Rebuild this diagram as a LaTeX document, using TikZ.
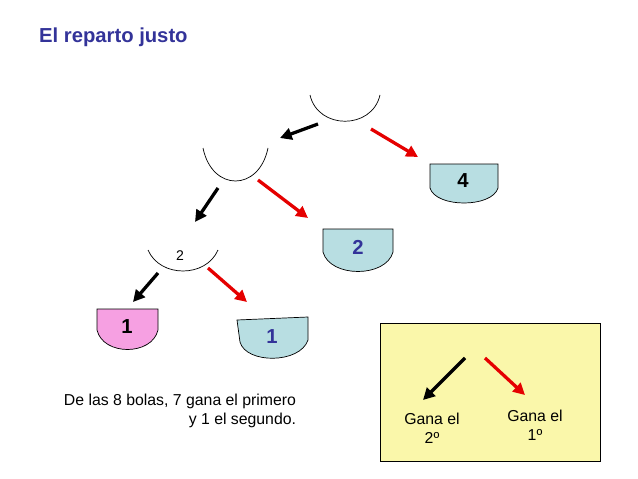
\documentclass[tikz,border=0pt]{standalone}
\usepackage{fontspec}
\setmainfont{Liberation Sans}
\usetikzlibrary{arrows.meta}
\definecolor{titleblue}{RGB}{51,51,153}
\definecolor{cupblue}{RGB}{184,222,226}
\definecolor{cuppink}{RGB}{246,160,226}
\definecolor{legendyellow}{RGB}{250,247,170}
\tikzset{
  blackarrow/.style={line width=2.8pt,-{Triangle[length=10pt,width=10pt]}},
  redarrow/.style={blackarrow,red!90!black},
  cup/.style={draw,line width=0.6pt},
  bigtext/.style={font=\bfseries\LARGE},
  plaintext/.style={font=\fontsize{13.5}{16}\selectfont}
}
\begin{document}
\begin{tikzpicture}[x=0.03cm,y=-0.03cm]
        \useasboundingbox (0,0) rectangle (638,479);

        \node [anchor=west, titleblue, font=\bfseries\LARGE] (title) at (35,37) {El reparto justo};

        % open cups
        \draw [cup] (310,95) .. controls (318,130) and (372,130) .. (380,95);
        \draw [cup] (203,148) .. controls (212,192) and (259,192) .. (268,148);
        \draw [cup] (148,250) .. controls (160,278) and (206,278) .. (218,250);
        \node [font=\large] (two) at (180,256) {2};

        % filled cups
        \filldraw [cup, fill=cupblue] (430,164) -- (498,164) -- (498,188)
          .. controls (492,208) and (436,208) .. (430,188) -- cycle;
        \node [bigtext] (four) at (463,181) {4};

        \filldraw [cup, fill=cupblue] (323,229) -- (393,229) -- (393,252)
          .. controls (386,278) and (330,278) .. (323,252) -- cycle;
        \node [bigtext, titleblue] (twob) at (358,247) {2};

        \filldraw [cup, fill=cuppink] (97,309) -- (158,309) -- (158,330)
          .. controls (152,356) and (103,356) .. (97,330) -- cycle;
        \node [bigtext] (onea) at (127,327) {1};

        \filldraw [cup, fill=cupblue] (237,320) -- (308,317) -- (308,340)
          .. controls (300,364) and (246,364) .. (240,342) -- cycle;
        \node [bigtext, titleblue] (oneb) at (272,337) {1};

        % arrows
        \coordinate (a1) at (318,124); \coordinate (b1) at (280,138);
        \coordinate (a2) at (371,129); \coordinate (b2) at (418,157);
        \coordinate (a3) at (218,188); \coordinate (b3) at (195,222);
        \coordinate (a4) at (258,180); \coordinate (b4) at (308,218);
        \coordinate (a5) at (158,273); \coordinate (b5) at (133,302);
        \coordinate (a6) at (208,268); \coordinate (b6) at (247,302);
        \draw [blackarrow] (a1) -- (b1);
        \draw [redarrow] (a2) -- (b2);
        \draw [blackarrow] (a3) -- (b3);
        \draw [redarrow] (a4) -- (b4);
        \draw [blackarrow] (a5) -- (b5);
        \draw [redarrow] (a6) -- (b6);

        \node [plaintext, align=right] (text) at (180,411)
          {De las 8 bolas, 7 gana el primero\\y 1 el segundo.};

        % legend
        \filldraw [fill=legendyellow, line width=0.6pt] (380,323) rectangle (600,461);
        \coordinate (la) at (465,358); \coordinate (lb) at (423,400);
        \coordinate (lc) at (485,358); \coordinate (ld) at (525,395);
        \draw [blackarrow] (la) -- (lb);
        \draw [redarrow] (lc) -- (ld);
        \node [plaintext, align=center] (second) at (432,428) {Gana el\\2º};
        \node [plaintext, align=center] (first) at (535,425) {Gana el\\1º};
      \end{tikzpicture}
\end{document}
